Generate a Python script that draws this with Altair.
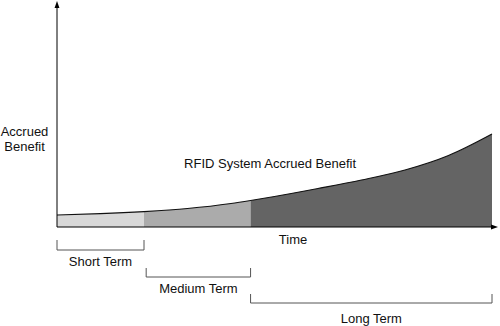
import altair as alt
import pandas as pd

# ---- data ----
time = [0, 1, 2, 3, 4, 4.45, 5, 6, 7, 8, 9, 10]
benefit = [12, 13.3, 15.4, 18.5, 23.5, 26.5, 30.5, 38.5, 47, 57, 71.5, 93]
terms = ["Short Term", "Medium Term", "Long Term"]
term_start = [0, 2.05, 4.45]
term_end = [2, 4.45, 10]
shade_start = [0, 2, 4.45]
shade_end = [2, 4.45, 10]
term_colors = ["#d8d8d8", "#ababab", "#646464"]

FONT = "Liberation Sans"
FS = 13

# scales: x in time units, y in benefit units
XD = [-57 / 43.5, (500 - 57) / 43.5]
YD = [-99, 227]
xs = alt.Scale(domain=XD, nice=False, zero=False)
ys = alt.Scale(domain=YD, nice=False, zero=False)

# area segments
rows = []
for name, s, e in zip(terms, shade_start, shade_end):
    for t, b in zip(time, benefit):
        if s - 1e-9 <= t <= e + 1e-9:
            rows.append({"term": name, "t": t, "v": b, "base": 0})
seg = pd.DataFrame(rows)
curve = pd.DataFrame({"t": time, "v": benefit})

area = alt.Chart(seg).mark_area(interpolate="monotone", opacity=1).encode(
    x=alt.X("t:Q", scale=xs, axis=None),
    y=alt.Y("v:Q", scale=ys, axis=None, stack=None),
    y2="base:Q",
    color=alt.Color("term:N", scale=alt.Scale(domain=terms, range=term_colors), legend=None),
)

line = alt.Chart(curve).mark_line(interpolate="monotone", color="#111", strokeWidth=1.2).encode(
    x=alt.X("t:Q", scale=xs), y=alt.Y("v:Q", scale=ys)
)

# axes with arrows
axes_df = pd.DataFrame({"x": [0, 0], "y": [0, 0], "x2": [0, 10.02], "y2": [222, 0]})
axes = alt.Chart(axes_df).mark_rule(color="#000", strokeWidth=1).encode(
    x=alt.X("x:Q", scale=xs), y=alt.Y("y:Q", scale=ys), x2="x2:Q", y2="y2:Q"
)
up = alt.Chart(pd.DataFrame({"x": [0], "y": [222.5]})).mark_point(
    shape="M0,-1L-0.7,1L0.7,1Z", filled=True, color="#000", size=49, opacity=1
).encode(x=alt.X("x:Q", scale=xs), y=alt.Y("y:Q", scale=ys))
right = alt.Chart(pd.DataFrame({"x": [10.057], "y": [0]})).mark_point(
    shape="M1,0L-1,-0.7L-1,0.7Z", filled=True, color="#000", size=49, opacity=1
).encode(x=alt.X("x:Q", scale=xs), y=alt.Y("y:Q", scale=ys))

# brackets below the axis
bar_level = [-23, -50, -76]
tick_top = [-13, -41, -67]
label_level = [-35, -62, -92]
br = pd.DataFrame({"term": terms, "s": term_start, "e": term_end,
                   "lv": bar_level, "top": tick_top, "lab": label_level})
br["mid"] = (br["s"] + br["e"]) / 2
bcol = "#555"
hbar = alt.Chart(br).mark_rule(color=bcol, strokeWidth=1).encode(
    x=alt.X("s:Q", scale=xs), x2="e:Q", y=alt.Y("lv:Q", scale=ys)
)
ltick = alt.Chart(br).mark_rule(color=bcol, strokeWidth=1).encode(
    x=alt.X("s:Q", scale=xs), y=alt.Y("top:Q", scale=ys), y2="lv:Q"
)
rtick = alt.Chart(br).mark_rule(color=bcol, strokeWidth=1).encode(
    x=alt.X("e:Q", scale=xs), y=alt.Y("top:Q", scale=ys), y2="lv:Q"
)
blabel = alt.Chart(br).mark_text(font=FONT, fontSize=FS, color="#111", baseline="middle").encode(
    x=alt.X("mid:Q", scale=xs), y=alt.Y("lab:Q", scale=ys), text="term:N"
)

# other texts
txt = pd.DataFrame({
    "label": ["RFID System Accrued Benefit", "Time"],
    "x": [4.897, 5.425], "y": [63, -12.7],
})
texts = alt.Chart(txt).mark_text(font=FONT, fontSize=FS, color="#111", baseline="middle").encode(
    x=alt.X("x:Q", scale=xs), y=alt.Y("y:Q", scale=ys), text="label:N"
)
ylab = alt.Chart(pd.DataFrame({"x": [-0.747], "y": [94.7]})).mark_text(
    font=FONT, fontSize=FS, color="#111", baseline="middle", align="center",
    lineBreak="\n", lineHeight=15, text="Accrued\nBenefit"
).encode(x=alt.X("x:Q", scale=xs), y=alt.Y("y:Q", scale=ys))

chart = alt.layer(area, line, axes, up, right, hbar, ltick, rtick, blabel, texts, ylab).properties(
    width=500, height=326, autosize=alt.AutoSizeParams(type="none"), padding=0,
    background="white"
).configure_view(stroke=None)

chart.save("out.html", embed_options={"renderer": "svg", "actions": False})
